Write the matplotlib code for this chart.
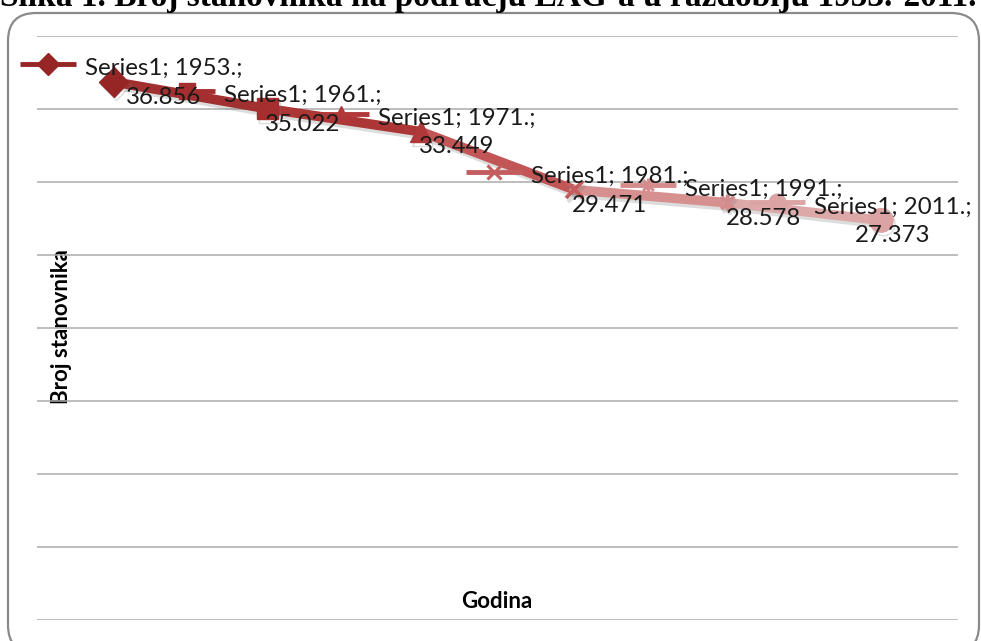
import numpy as np
import matplotlib
matplotlib.use('Agg')
import matplotlib.pyplot as plt
import matplotlib.patheffects as pe
from matplotlib.patches import FancyBboxPatch
from matplotlib.path import Path
from matplotlib.transforms import offset_copy

# --- data ---
years = ['1953.', '1961.', '1971.', '1981.', '1991.', '2011.']
population = [36.856, 35.022, 33.449, 29.471, 28.578, 27.373]
series_name = 'Series1'

# --- style ---
W, H, DPI = 981, 641, 100
FONT = 'Lato'
point_colors = ['#962626', '#A52E2E', '#B03838', '#C45E5E', '#D48C8C', '#DBA3A3']
seg_colors = ['#A23030', '#AC3636', '#C25656', '#D69090', '#DDA8A8']

star_path = Path([(-1, -1), (1, 1), (-1, 1), (1, -1), (0, -1.3), (0, 1.3)],
                 [Path.MOVETO, Path.LINETO, Path.MOVETO, Path.LINETO, Path.MOVETO, Path.LINETO])
markers = ['D', 's', '^', 'x', star_path, 'o']
marker_sizes = [15, 15, 15, 12, 12, 17]
key_sizes = [11, 11, 11, 10, 10, 12]
label_shift = [14, 0, 0, 0, 0, -24]  # px, keeps first/last labels inside

fig = plt.figure(figsize=(W / DPI, H / DPI), dpi=DPI)

# background layer in pixel coords (frame, cropped caption, axis titles)
bg = fig.add_axes([0, 0, 1, 1], zorder=0)
bg.set_xlim(0, W)
bg.set_ylim(H, 0)
bg.axis('off')
bg.add_patch(FancyBboxPatch((8, 13), 971, 640, boxstyle='round,pad=0,rounding_size=28',
                            fc='white', ec='#8a8a8a', lw=1.6))
bg.text(488, 6, 'Slika 1. Broj stanovnika na području LAG-a u razdoblju 1953.-2011.',
        family='Liberation Serif', weight='bold', fontsize=24, ha='center', va='baseline')
bg.text(497, 602, 'Godina', family=FONT, weight='bold', fontsize=16,
        ha='center', va='center')
bg.text(62, 327, 'Broj stanovnika', family=FONT, weight='bold', fontsize=16,
        ha='center', va='center', rotation=90)

ax = fig.add_axes([37 / W, 21 / H, 921 / W, 584 / H], zorder=1)
ax.patch.set_alpha(0)
x = np.arange(len(years))
ax.set_xlim(-0.5, len(years) - 0.5)
ax.set_ylim(0, 40)
ax.set_yticks(np.arange(0, 41, 5))
ax.set_xticks([])
ax.tick_params(axis='y', length=0, labelleft=False)
ax.grid(axis='y', color='#ababab', lw=1.1)
for s in ax.spines.values():
    s.set_visible(False)

shadow = [pe.SimpleLineShadow(offset=(1.5, -2.5), shadow_color='#777777', alpha=0.25), pe.Normal()]

for i in range(len(x) - 1):
    ax.plot(x[i:i + 2], population[i:i + 2], color=seg_colors[i], lw=7,
            solid_capstyle='round', clip_on=False, path_effects=shadow, zorder=3)

for i in range(len(x)):
    m = markers[i]
    lined = m in ('x',) or m is star_path
    ax.plot(x[i], population[i], marker=m, ms=marker_sizes[i], color=point_colors[i],
            mec=point_colors[i], mew=2.8 if lined else 1, clip_on=False,
            path_effects=shadow, zorder=4)

    # legend key in the data label
    kt = offset_copy(ax.transData, fig=fig, x=-80 + label_shift[i], y=18, units='dots')
    ax.plot(x[i], population[i], marker='_', ms=40, mew=3.5, color=point_colors[i],
            transform=kt, clip_on=False, zorder=5)
    ax.plot(x[i], population[i], marker=m, ms=key_sizes[i], color=point_colors[i],
            mec=point_colors[i], mew=2.2 if lined else 1, transform=kt, clip_on=False, zorder=5)

    label = f'{series_name}; {years[i]};\n{population[i]:.3f}'
    ax.annotate(label, (x[i], population[i]), xytext=(-43 + label_shift[i], -1),
                textcoords='offset pixels', ha='left', va='center', multialignment='center',
                family=FONT, fontsize=17.3, color='#1a1a1a', linespacing=1.45, zorder=6,
                annotation_clip=False)

fig.savefig('out.png', dpi=DPI)
